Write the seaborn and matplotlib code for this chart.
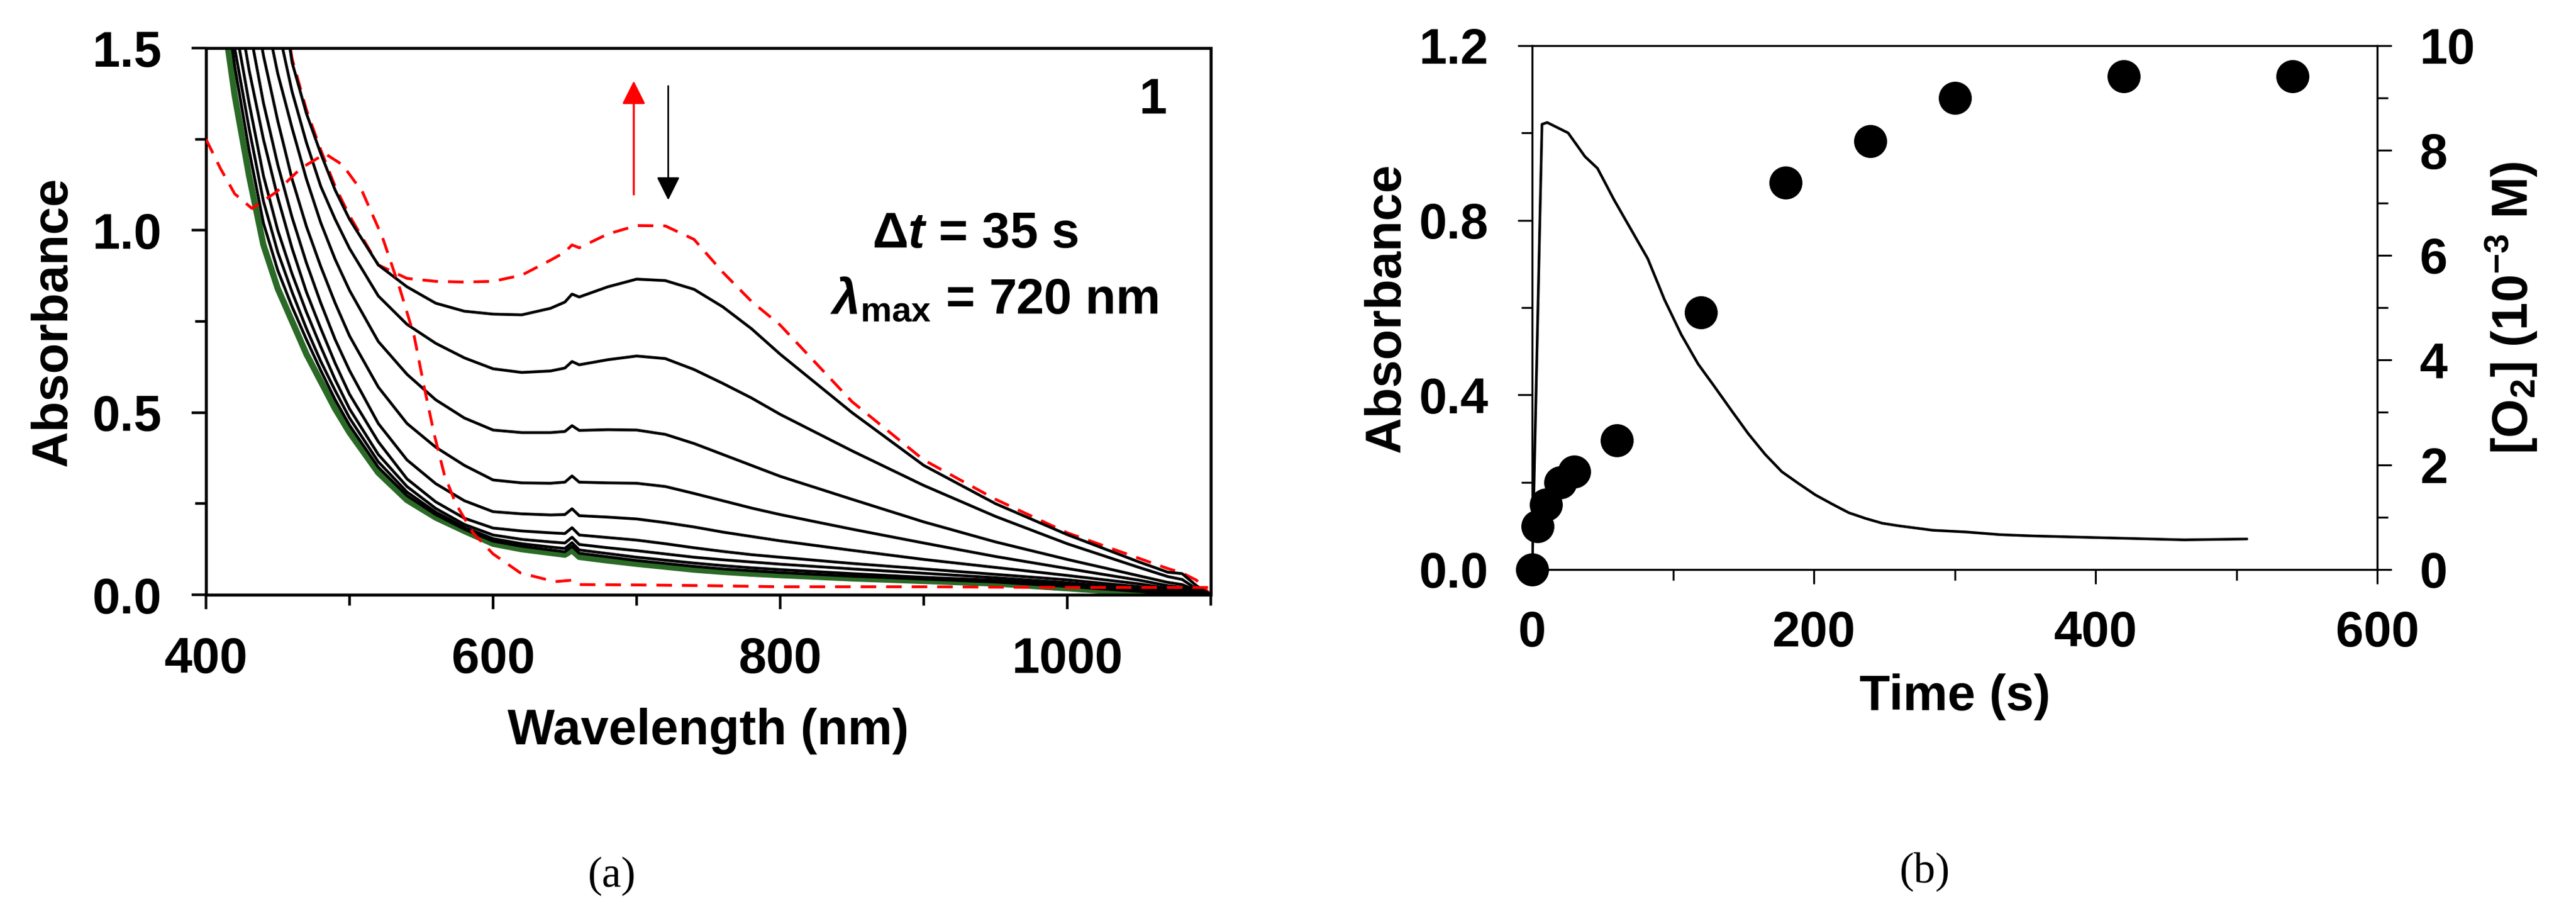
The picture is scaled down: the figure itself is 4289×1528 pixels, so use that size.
import matplotlib
matplotlib.use("Agg")
import matplotlib.pyplot as plt
from matplotlib.ticker import MultipleLocator, FormatStrFormatter
import seaborn as sns

# ---- panel (a): spectra ----
wavelength = [410, 420, 430, 440, 450, 460, 470, 480, 490, 500,
              520, 540, 560, 580, 600, 620, 640, 650, 655, 660,
              680, 700, 720, 740, 760, 780, 800, 850, 900, 950,
              1000, 1050, 1070, 1080, 1090, 1100]

abs_final = [1.65, 1.37, 1.15, 0.96, 0.84, 0.75, 0.66, 0.585, 0.51, 0.445,
             0.335, 0.26, 0.212, 0.175, 0.14, 0.125, 0.115, 0.11, 0.122, 0.104,
             0.094, 0.085, 0.077, 0.069, 0.063, 0.058, 0.054, 0.045, 0.038, 0.031,
             0.018, 0.004, 0.0, 0.0, 0.0, 0.0]

abs_t1 = [3.2, 2.8, 2.4, 2.0, 1.72, 1.46, 1.32, 1.21, 1.11, 1.03,
          0.905, 0.845, 0.80, 0.778, 0.77, 0.768, 0.786, 0.803, 0.825, 0.817,
          0.845, 0.866, 0.862, 0.838, 0.79, 0.73, 0.66, 0.50, 0.355, 0.25,
          0.165, 0.09, 0.062, 0.058, 0.025, 0.0]
abs_t2 = [2.9, 2.5, 2.1, 1.8, 1.56, 1.38, 1.24, 1.12, 1.03, 0.95,
          0.82, 0.742, 0.69, 0.65, 0.62, 0.61, 0.614, 0.622, 0.64, 0.631,
          0.645, 0.655, 0.648, 0.618, 0.58, 0.54, 0.495, 0.395, 0.30, 0.215,
          0.14, 0.075, 0.05, 0.042, 0.016, 0.0]
abs_t3 = [2.6, 2.2, 1.88, 1.62, 1.43, 1.28, 1.14, 1.02, 0.92, 0.835,
          0.695, 0.605, 0.535, 0.485, 0.452, 0.445, 0.445, 0.448, 0.464, 0.451,
          0.453, 0.452, 0.44, 0.415, 0.385, 0.355, 0.325, 0.262, 0.2, 0.145,
          0.097, 0.052, 0.034, 0.028, 0.012, 0.0]
abs_t4 = [2.3, 1.95, 1.7, 1.48, 1.3, 1.14, 1.01, 0.90, 0.80, 0.71,
          0.57, 0.47, 0.405, 0.355, 0.315, 0.307, 0.306, 0.309, 0.326, 0.309,
          0.307, 0.306, 0.297, 0.278, 0.258, 0.238, 0.22, 0.18, 0.142, 0.105,
          0.072, 0.04, 0.025, 0.02, 0.008, 0.0]
abs_t5 = [2.1, 1.8, 1.56, 1.35, 1.18, 1.035, 0.91, 0.80, 0.70, 0.615,
          0.47, 0.37, 0.305, 0.258, 0.228, 0.222, 0.219, 0.22, 0.236, 0.217,
          0.213, 0.208, 0.198, 0.186, 0.172, 0.16, 0.148, 0.122, 0.097, 0.075,
          0.053, 0.03, 0.018, 0.014, 0.006, 0.0]
abs_t6 = [1.95, 1.67, 1.44, 1.25, 1.09, 0.95, 0.83, 0.73, 0.635, 0.55,
          0.42, 0.318, 0.255, 0.21, 0.183, 0.175, 0.17, 0.168, 0.184, 0.164,
          0.157, 0.15, 0.14, 0.129, 0.119, 0.11, 0.103, 0.086, 0.071, 0.056,
          0.041, 0.022, 0.013, 0.009, 0.004, 0.0]
abs_t7 = [1.86, 1.57, 1.35, 1.15, 1.0, 0.88, 0.775, 0.68, 0.59, 0.51,
          0.385, 0.297, 0.237, 0.193, 0.164, 0.152, 0.145, 0.142, 0.158, 0.138,
          0.129, 0.121, 0.112, 0.103, 0.096, 0.09, 0.084, 0.071, 0.059, 0.047,
          0.033, 0.016, 0.009, 0.006, 0.002, 0.0]
abs_t8 = [1.8, 1.5, 1.28, 1.08, 0.94, 0.83, 0.73, 0.64, 0.56, 0.485,
          0.365, 0.282, 0.227, 0.185, 0.154, 0.14, 0.131, 0.127, 0.143, 0.123,
          0.113, 0.103, 0.095, 0.087, 0.08, 0.074, 0.069, 0.058, 0.048, 0.04,
          0.027, 0.012, 0.006, 0.003, 0.0, 0.0]
abs_t9 = [1.75, 1.45, 1.22, 1.02, 0.89, 0.79, 0.70, 0.615, 0.535, 0.465,
          0.35, 0.272, 0.22, 0.18, 0.147, 0.133, 0.123, 0.118, 0.133, 0.114,
          0.104, 0.094, 0.086, 0.078, 0.071, 0.066, 0.061, 0.051, 0.043, 0.035,
          0.023, 0.009, 0.003, 0.0, 0.0, 0.0]

abs_max = [3.2, 2.8, 2.4, 2.0, 1.72, 1.47, 1.33, 1.22, 1.12, 1.04,
           0.905, 0.868, 0.86, 0.858, 0.86, 0.877, 0.918, 0.94, 0.96, 0.952,
           0.99, 1.013, 1.012, 0.975, 0.885, 0.805, 0.74, 0.53, 0.37, 0.262,
           0.17, 0.1, 0.072, 0.06, 0.04, 0.0]

# starting complex, own wavelength grid
wavelength_start = [400, 410, 420, 432, 449, 466, 483, 495, 509, 523,
                    535, 545, 552, 559, 566, 574, 586, 600, 619, 643,
                    655, 660, 700, 750, 800, 900, 1000, 1100]
abs_start = [1.25, 1.17, 1.10, 1.06, 1.105, 1.17, 1.21, 1.18, 1.105, 0.98,
             0.84, 0.71, 0.57, 0.44, 0.33, 0.25, 0.17, 0.112, 0.06, 0.036,
             0.04, 0.028, 0.027, 0.025, 0.022, 0.022, 0.02, 0.02]

# ---- panel (b): kinetics ----
time_abs = [0, 7, 10.7, 25.6, 37.5, 46.4, 58.3, 70.2, 82.1, 94, 105.9,
            117.8, 129.7, 141.6, 153.5, 165.4, 177.3, 189.2, 201.1, 213,
            224.9, 236.8, 248.7, 260.6, 284.4, 308.2, 332, 355.8, 403.4,
            462.9, 507.5]
abs_720 = [0.0, 1.02, 1.024, 1.0, 0.946, 0.919, 0.846, 0.779, 0.712, 0.618, 0.538,
           0.471, 0.418, 0.364, 0.311, 0.264, 0.224, 0.197, 0.171, 0.15,
           0.13, 0.117, 0.106, 0.1, 0.09, 0.086, 0.08, 0.077, 0.073,
           0.068, 0.07]

time_o2 = [0, 4, 10, 20, 30, 60, 120, 180, 240, 300, 420, 540]
o2_conc = [0.0, 0.82, 1.24, 1.66, 1.87, 2.46, 4.91, 7.38, 8.18, 9.0, 9.42, 9.42]

sns.set_style("ticks")
plt.rcParams["font.family"] = ["Liberation Sans", "DejaVu Sans"]
plt.rcParams["font.weight"] = "bold"
plt.rcParams["axes.labelweight"] = "bold"
plt.rcParams["text.color"] = "black"
plt.rcParams["axes.labelcolor"] = "black"
plt.rcParams["xtick.color"] = "black"
plt.rcParams["ytick.color"] = "black"
plt.rcParams["axes.edgecolor"] = "black"
plt.rcParams["mathtext.fontset"] = "custom"
plt.rcParams["mathtext.rm"] = "Liberation Sans:bold"
plt.rcParams["mathtext.bf"] = "Liberation Sans:bold"
plt.rcParams["mathtext.it"] = "Liberation Sans:italic:bold"
plt.rcParams["mathtext.bfit"] = "Liberation Sans:italic:bold"
plt.rcParams["mathtext.sf"] = "Liberation Sans:bold"

FS = 60
W, H = 4289, 1528
fig = plt.figure(figsize=(W / 100, H / 100), dpi=100)

# ---------------- (a) ----------------
axL = fig.add_axes([343 / W, 1 - 990 / H, (2016 - 343) / W, (990 - 80) / H])

dash = (0, (5.5, 3.5))
sns.lineplot(x=wavelength, y=abs_max, ax=axL, color="red", lw=3.4,
             ls=dash, zorder=2, sort=False, estimator=None)
sns.lineplot(x=wavelength, y=abs_final, ax=axL, color="#2a6a26", lw=7.5,
             zorder=2.5, sort=False, estimator=None)
for curve in [abs_t1, abs_t2, abs_t3, abs_t4, abs_t5, abs_t6, abs_t7, abs_t8, abs_t9]:
    sns.lineplot(x=wavelength, y=curve, ax=axL, color="black", lw=3.4,
                 zorder=3, sort=False, estimator=None)
sns.lineplot(x=wavelength_start, y=abs_start, ax=axL, color="red", lw=3.4,
             ls=dash, zorder=4, sort=False, estimator=None)

axL.set_xlim(400, 1100)
axL.set_ylim(0, 1.5)
axL.xaxis.set_major_locator(MultipleLocator(200))
axL.xaxis.set_minor_locator(MultipleLocator(100))
axL.yaxis.set_major_locator(MultipleLocator(0.5))
axL.yaxis.set_minor_locator(MultipleLocator(0.25))
axL.yaxis.set_major_formatter(FormatStrFormatter("%.1f"))
for sp in axL.spines.values():
    sp.set_linewidth(3.6)
    sp.set_color("black")
axL.tick_params(which="both", direction="out", width=3.2, colors="black",
                labelsize=FS, top=False, right=False)
axL.tick_params(which="major", length=17)
axL.tick_params(which="minor", length=13)
axL.tick_params(axis="x", pad=33)
axL.tick_params(axis="y", pad=36)
axL.set_xlabel("Wavelength (nm)", fontsize=FS, va="center")
axL.set_ylabel("Absorbance", fontsize=FS, va="center")
axL.xaxis.set_label_coords(0.5, -0.249)
axL.yaxis.set_label_coords(-0.152, 0.5)

axL.text(1060, 1.32, "1", fontsize=FS, ha="center", va="baseline")
axL.text(936, 0.952, r"$\Delta t$ = 35 s", fontsize=FS, ha="center", va="baseline")
axL.text(949, 0.771, r"$\lambda_{\mathrm{max}}$ = 720 nm", fontsize=FS,
         ha="center", va="baseline")

axL.annotate("", xy=(698, 1.41), xytext=(698, 1.098),
             arrowprops=dict(arrowstyle="-|>,head_length=1.0,head_width=0.5",
                             color="red", lw=2.4, mutation_scale=24,
                             shrinkA=0, shrinkB=0))
axL.annotate("", xy=(722, 1.083), xytext=(722, 1.396),
             arrowprops=dict(arrowstyle="-|>,head_length=1.0,head_width=0.5",
                             color="black", lw=2.0, mutation_scale=24,
                             shrinkA=0, shrinkB=0))

# ---------------- (b) ----------------
axR = fig.add_axes([2551 / W, 1 - 948 / H, (3958 - 2551) / W, (948 - 76) / H])
sns.lineplot(x=time_abs, y=abs_720, ax=axR, color="black", lw=3.2,
             sort=False, estimator=None)
axR.set_xlim(0, 600)
axR.set_ylim(0, 1.2)
axR.xaxis.set_major_locator(MultipleLocator(200))
axR.xaxis.set_minor_locator(MultipleLocator(100))
axR.yaxis.set_major_locator(MultipleLocator(0.4))
axR.yaxis.set_minor_locator(MultipleLocator(0.2))
axR.yaxis.set_major_formatter(FormatStrFormatter("%.1f"))

ax2 = axR.twinx()
sns.scatterplot(x=time_o2, y=o2_conc, ax=ax2, s=1570, color="black",
                linewidth=0, clip_on=False, zorder=5)
ax2.set_ylim(0, 10)
ax2.yaxis.set_major_locator(MultipleLocator(2))
ax2.yaxis.set_minor_locator(MultipleLocator(1))

for a in (axR, ax2):
    for sp in a.spines.values():
        sp.set_linewidth(2.3)
        sp.set_color("black")
    a.tick_params(which="both", direction="out", width=2.3, colors="black",
                  labelsize=FS)
    a.tick_params(which="major", length=17)
    a.tick_params(which="minor", length=13)
axR.tick_params(axis="x", pad=31)
axR.tick_params(axis="y", pad=35)
ax2.tick_params(axis="y", pad=34)

axR.set_xlabel("Time (s)", fontsize=FS, va="center")
axR.set_ylabel("Absorbance", fontsize=FS, va="center")
axR.xaxis.set_label_coords(0.5, -0.243)
axR.yaxis.set_label_coords(-0.172, 0.5)
ax2.set_ylabel(r"[O$_{\mathrm{2}}$] (10$^{\mathrm{-3}}$ M)", fontsize=FS,
               va="center", rotation=90)
ax2.yaxis.set_label_coords(1.159, 0.5)

fig.text(1019 / W, 1 - 1458 / H, "(a)", fontsize=52, ha="center", va="center",
         family="Liberation Serif", weight="normal", color="black")
fig.text(3205 / W, 1 - 1451 / H, "(b)", fontsize=52, ha="center", va="center",
         family="Liberation Serif", weight="normal", color="black")

fig.savefig("out.png", dpi=100, facecolor="white")
